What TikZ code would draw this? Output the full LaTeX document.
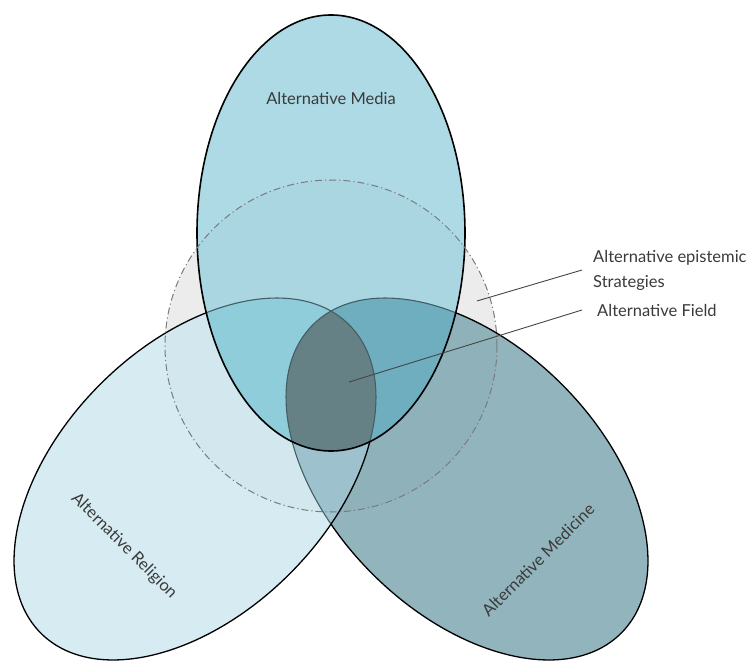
\documentclass[tikz,border=0pt]{standalone}
\usepackage{fontspec}
\setmainfont{Lato}
\definecolor{cT}{RGB}{173,218,229}
\definecolor{cL}{RGB}{214,236,242}
\definecolor{cR}{RGB}{146,180,189}
\definecolor{cLR}{RGB}{160,198,209}
\definecolor{cTL}{RGB}{146,209,222}
\definecolor{cTR}{RGB}{112,177,194}
\definecolor{cTLR}{RGB}{103,132,136}
\definecolor{rimgray}{RGB}{70,96,102}
\definecolor{labelgray}{RGB}{58,58,58}
\definecolor{leadergray}{RGB}{70,70,70}
\definecolor{circgray}{RGB}{120,124,126}
\definecolor{fieldfill}{RGB}{240,240,240}
% the three sets and the dashed field
\def\ET{(331,429) circle [x radius=134, y radius=218]}
\def\EL{(195,183) circle [x radius=218, y radius=134, rotate=45]}
\def\ER{(467,183) circle [x radius=218, y radius=134, rotate=-45]}
\def\EC{(331,316) circle [radius=166]}
\begin{document}
\begin{tikzpicture}[x=1pt,y=1pt,
  rim/.style={line width=1.3pt, draw=black},
  innerrim/.style={line width=1.1pt, draw=rimgray},
  lbl/.style={font=\fontsize{16.5}{25}\selectfont, text=labelgray},
  leader/.style={line width=0.9pt, draw=leadergray},
  fieldline/.style={line width=1pt, draw=circgray, dash pattern=on 7pt off 3pt on 1.2pt off 3pt}]
\useasboundingbox (0,0) rectangle (752,662);
\fill[white] (0,0) rectangle (752,662);

% field of epistemic strategies, under the sets
\fill[fieldfill] \EC;

% Alternative Medicine
\fill[cR] \ER;
\draw[rim] \ER;
% Alternative Religion
\fill[cL] \EL;
\begin{scope}
  \clip \EL;
  \fill[cLR] \ER;
  \draw[innerrim] \ER;
\end{scope}
\draw[rim] \EL;
% Alternative Media
\fill[cT] \ET;
\begin{scope}
  \clip \ET;
  \fill[cTL] \EL;
  \fill[cTR] \ER;
  \begin{scope}
    \clip \EL;
    \fill[cTLR] \ER;
  \end{scope}
  \draw[innerrim] \EL;
  \draw[innerrim] \ER;
\end{scope}
\draw[rim, line width=1.6pt] \ET;

% faint tint and dash-dot outline of the field
\fill[black, opacity=0.015] \EC;
\draw[fieldline] \EC;

% labels
\node[lbl] (media) at (331,564) {Alternative Media};
\node[lbl, rotate=-45] (religion) at (124,116) {Alternative Religion};
\node[lbl, rotate=45] (medicine) at (538,102) {Alternative Medicine};
\node[lbl, anchor=west, align=left, inner xsep=11pt, inner ysep=0pt] (strat) at (582,392) {Alternative epistemic\\Strategies};
\node[lbl, anchor=west, inner xsep=15pt] (field) at (582,352) {Alternative Field};

% leader lines
\coordinate (stratpt) at (477,361);
\coordinate (fieldpt) at (349,280);
\draw[leader] (stratpt) -- (strat.west);
\draw[leader] (fieldpt) -- (field.west);
\end{tikzpicture}
\end{document}
